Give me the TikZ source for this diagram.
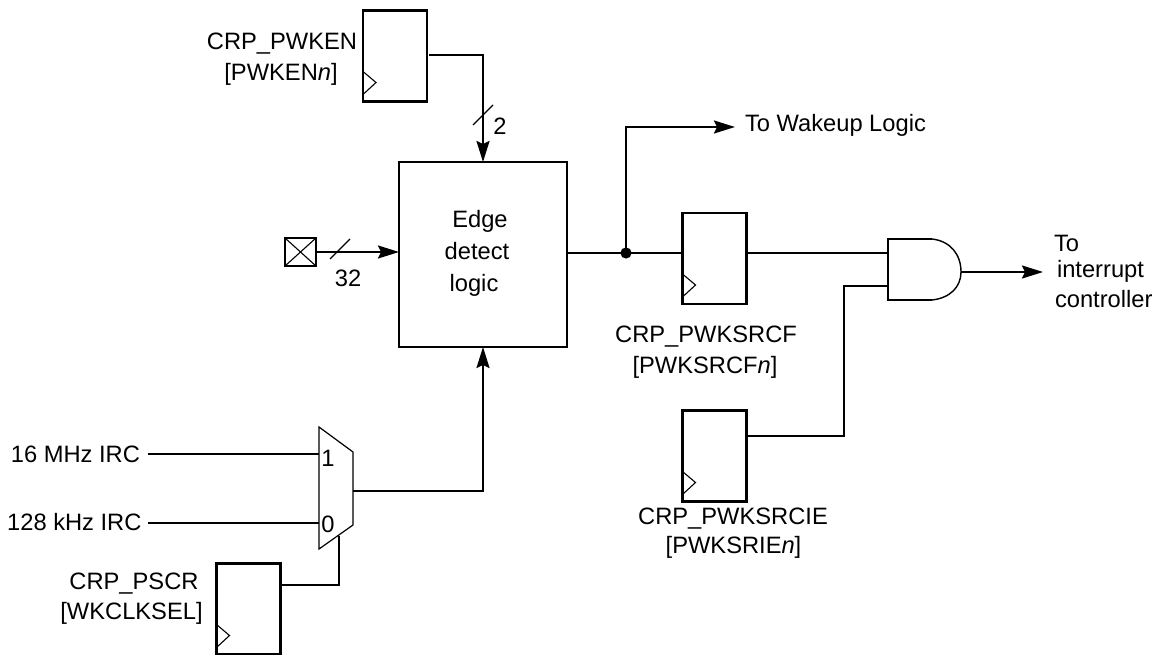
\documentclass[tikz,border=0pt]{standalone}
\usepackage{fontspec}
\setmainfont{Liberation Sans}
\usetikzlibrary{arrows.meta,calc}
\tikzset{
  wire/.style={line width=2pt,line join=miter},
  arrowed/.style={wire,-{Stealth[length=21pt,width=13pt,inset=3pt]}},
  thinline/.style={line width=1.1pt},
  reg/.style={draw,line width=2.1pt,minimum width=64pt,minimum height=91pt,inner sep=0pt,outer sep=0pt},
  lbl/.style={inner sep=0pt,outer sep=0pt,text height=17pt,text depth=0pt,font=\fontsize{23.7}{28}\selectfont}
}
\newcommand{\clk}[1]{\draw[thinline] ($(#1.south west)+(0,-30)$) -- ($(#1.south west)+(13,-19)$) -- ($(#1.south west)+(0,-7)$);}
\begin{document}
\begin{tikzpicture}[x=1pt,y=-1pt]
\useasboundingbox (0,0) rectangle (1157,655);
% registers
\node[reg] (rega) at (395,56) {}; \clk{rega}
\node[reg] (regb) at (714.5,258.5) {}; \clk{regb}
\node[reg] (regc) at (714.5,456) {}; \clk{regc}
\node[reg] (regd) at (248.5,609) {}; \clk{regd}
% edge detect
\node[draw,line width=2.1pt,minimum width=168pt,minimum height=185pt,inner sep=0pt,outer sep=0pt] (edge) at (483,254.5) {};
\node[lbl] (t1) at (480,219.5) {Edge};
\node[lbl] (t2) at (477,251.5) {detect};
\node[lbl] (t3) at (474,282.5) {logic};
% pad
\node[draw,line width=2.1pt,minimum width=31pt,minimum height=28pt,inner sep=0pt,outer sep=0pt] (pad) at (300.5,252) {};
\draw[thinline] (pad.north west) -- (pad.south east) (pad.north east) -- (pad.south west);
% mux
\coordinate (mtl) at (319,427); \coordinate (mtr) at (353,452);
\coordinate (mbr) at (353,525); \coordinate (mbl) at (319,549);
\draw[line width=1.2pt,line join=miter] (mtl) -- (mtr) -- (mbr) -- (mbl) -- cycle;
\node[lbl] (m1) at (328,458) {1};
\node[lbl] (m0) at (328,524) {0};
% labels
\node[lbl,anchor=east] (irca) at (140,454) {16 MHz IRC};
\node[lbl,anchor=east] (ircb) at (141.5,522) {128 kHz IRC};
\node[lbl] (la1) at (282,41) {CRP\_PWKEN};
\node[lbl] (la2) at (281,72.5) {[PWKEN\textit{n}]};
\node[lbl] (lb1) at (706,333.5) {CRP\_PWKSRCF};
\node[lbl] (lb2) at (705,364.5) {[PWKSRCF\textit{n}]};
\node[lbl] (lc1) at (733,515.5) {CRP\_PWKSRCIE};
\node[lbl] (lc2) at (733.5,544.5) {[PWKSRIE\textit{n}]};
\node[lbl] (ld1) at (134,581) {CRP\_PSCR};
\node[lbl] (ld2) at (131.5,610.5) {[WKCLKSEL]};
\node[lbl,anchor=west] (wake) at (745,123.5) {To Wakeup Logic};
\node[lbl,anchor=west] (o1) at (1054,243.5) {To};
\node[lbl,anchor=west] (o2) at (1057,269.5) {interrupt};
\node[lbl,anchor=west] (o3) at (1055,298.5) {controller};
\node[lbl] (n2) at (500,126) {2};
\node[lbl] (n32) at (348,278) {32};
% AND gate
\coordinate (gtl) at (888,239); \coordinate (gbl) at (888,300);
\coordinate (gtr) at (932,239); \coordinate (gbr) at (932,300);
\coordinate (gout) at (961,272);
\draw[line width=2.8pt,line join=miter] (gtr) -- (gtl) -- (gbl) -- (gbr);
\draw[line width=1.4pt] (gtr) .. controls (950,241) and (961,254) .. (gout) .. controls (961,287) and (950,298) .. (gbr);
% wires
\coordinate (aout) at (429,55);
\draw[arrowed] (aout) -- (aout -| edge.north) -- (edge.north);
\draw[thinline] (473,125) -- (493,105);
\draw[arrowed] (pad.east) -- (edge.west |- pad.east);
\draw[thinline] (330,259) -- (350,239);
\coordinate (mout) at (353,491);
\draw[arrowed] (mout) -- (mout -| edge.south) -- (edge.south);
\coordinate (ma) at (319,454); \coordinate (mb) at (319,523);
\draw[wire] (148,454) coordinate (ia) -- (ma);
\draw[wire] (148,523) coordinate (ib) -- (mb);
\coordinate (msel) at (339,536);
\draw[wire] (msel) -- (msel |- 0,585) -- (regd.east |- 0,585);
\coordinate (eout) at (567,253);
\draw[wire] (eout) -- (regb.west |- eout);
\fill (626,253) circle (5.6pt) coordinate (jn);
\coordinate (wk) at (735,127);
\draw[arrowed] (jn) -- (jn |- wk) -- (wk);
\coordinate (gi1) at (889,253); \coordinate (gi2) at (889,286);
\draw[wire] (regb.east |- gi1) -- (gi1);
\draw[wire] (regc.east |- 0,436) -- (844,436) -- (844,286) -- (gi2);
\coordinate (oend) at (1043,272);
\draw[arrowed] (gout) -- (oend);
\end{tikzpicture}
\end{document}
